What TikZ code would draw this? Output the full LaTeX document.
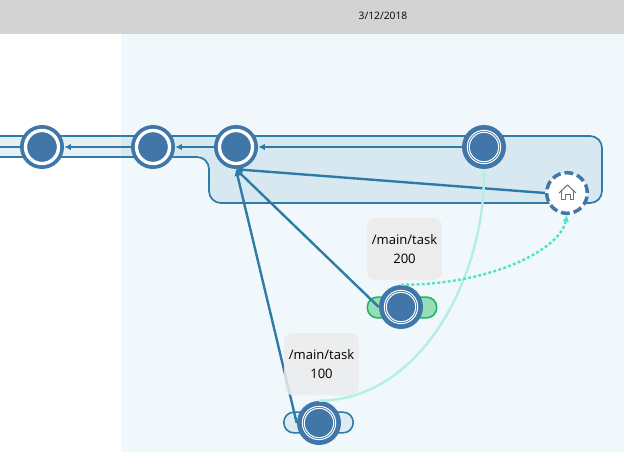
\documentclass[tikz,border=0pt]{standalone}
\usepackage{fontspec}
\setmainfont{Open Sans}
\usepackage{tikz}
\usetikzlibrary{arrows.meta,shapes,positioning}
\definecolor{ringblue}{HTML}{4076A8}
\definecolor{linkblue}{HTML}{2E7CA5}
\definecolor{headgray}{HTML}{D3D3D3}
\definecolor{panelblue}{HTML}{F0F8FB}
\definecolor{labelgray}{HTML}{ECECEC}
\definecolor{mergeteal}{HTML}{B3EFE3}
\definecolor{dotteal}{HTML}{52E2C8}
\definecolor{pillgreen}{HTML}{96DEB8}
\definecolor{pilledge}{HTML}{1EB566}
\definecolor{pillblue}{HTML}{DEEBF3}
\definecolor{icongray}{HTML}{6B7078}
\tikzset{
>={Latex[length=5pt,width=5pt]},
every node/.append style={inner sep=0pt},
basering/.style={circle, minimum size=33pt, fill=ringblue}, % filled disc, the rings are drawn inside
plainring/.style={basering, path picture={\draw [white, line width=2.5pt] (path picture bounding box.center) circle (12.4pt);}},
taskring/.style={basering, path picture={
    \draw [white, line width=0.75pt] (path picture bounding box.center) circle (12.5pt);
    \draw [white, line width=0.75pt] (path picture bounding box.center) circle (11pt);}},
homering/.style={circle, minimum size=30.5pt, fill=white, draw=ringblue, line width=2.6pt, dash pattern=on 6.6pt off 3pt},
pillgreenbox/.style={rectangle, rounded corners=7.5pt, minimum width=52pt, minimum height=15.5pt, fill=pillgreen, draw=pilledge, line width=1.2pt},
pillbluebox/.style={rectangle, rounded corners=7.5pt, minimum width=52pt, minimum height=15.5pt, fill=pillblue, draw=linkblue, line width=1.2pt},
labelbox/.style={rectangle, rounded corners=6pt, minimum width=56pt, minimum height=46.5pt, fill=labelgray, align=center, font=\fontsize{9.8}{14}\selectfont},
link/.style={->, linkblue, line width=1.8pt},
}

\begin{document}
\begin{tikzpicture}[x=0.75pt,y=0.75pt]
    \useasboundingbox (0,0) rectangle (624,-452);
    \fill [panelblue] (121,-34) rectangle (624,-452);
    \fill [headgray] (0,0) rectangle (624,-34);
    \node (date) at (383,-16) {\fontsize{7.7}{9}\selectfont 3/12/2018};
    \fill [linkblue, fill opacity=0.12, rounded corners=9pt] (-20,-136) -- (602,-136) -- (602,-203) -- (209,-203) -- (209,-157) -- (-20,-157) -- cycle;
    \draw [linkblue, line width=1.3pt, rounded corners=9pt] (0,-136) -- (602,-136) -- (602,-203) -- (209,-203) -- (209,-157) -- (0,-157);
    \node [pillgreenbox] (taskpilltwo) at (402,-307.5) {};
    \node [pillbluebox] (taskpillone) at (318.5,-422.5) {};
    \node [plainring] (histone) at (42,-147) {};
    \node [plainring] (histtwo) at (153,-147) {};
    \node [plainring] (mainhead) at (236,-147) {};
    \node [taskring] (mainlast) at (484,-147) {};
    \node [homering] (home) at (567,-193) {};
    \node [taskring] (tasktwo) at (401,-307) {};
    \node [taskring] (taskone) at (319,-423) {};
    \coordinate (offleft) at (0,-147);
    \draw [linkblue, line width=1.8pt] (histone) -- (offleft);
    \draw [link] (histtwo) -- (histone);
    \draw [link] (mainhead) -- (histtwo);
    \draw [link] (mainlast) -- (mainhead);
    \draw [link] (home.west) -- (mainhead.south);
    \draw [link] (tasktwo.west) -- (mainhead.south);
    \draw [link] (taskone.west) -- (mainhead.south);
    \draw [->, mergeteal, line width=1.8pt] (taskone.north) .. controls (422,-400) and (484,-276) .. (mainlast.south);
    \draw [->, dotteal, line width=1.8pt, dash pattern=on 2.2pt off 1.7pt] (tasktwo.north) .. controls (490,-285) and (560,-250) .. (home.south);
    \node [labelbox] (labeltwo) at (404.5,-249) {/main/task\\200};
    \node [labelbox, fill opacity=0.85, text opacity=1] (labelone) at (321.5,-364) {/main/task\\100};
    \draw [icongray, line width=0.75pt, line join=round] (559,-193) -- (567.5,-185) -- (576,-193);
    \draw [icongray, line width=0.75pt, line join=round] (561.5,-191.5) -- (561.5,-200) -- (565,-200) -- (565,-194.5) -- (570,-194.5) -- (570,-200) -- (573.5,-200) -- (573.5,-191.5);
\end{tikzpicture}
\end{document}
